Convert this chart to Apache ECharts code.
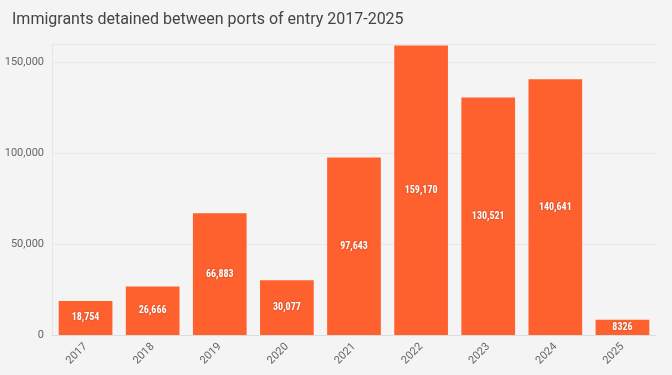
<!DOCTYPE html>
<html>
<head>
<meta charset="utf-8">
<script src="https://cdn.jsdelivr.net/npm/echarts@6/dist/echarts.min.js"></script>
<style>
  html, body { margin: 0; padding: 0; background: #f4f4f4; }
  #chart { width: 672px; height: 375px; }
</style>
</head>
<body>
<div id="chart"></div>
<script>
const years = ["2017", "2018", "2019", "2020", "2021", "2022", "2023", "2024", "2025"];
const detained = [18754, 26666, 66883, 30077, 97643, 159170, 130521, 140641, 8326];

const chart = echarts.init(document.getElementById("chart"));
chart.setOption({
  backgroundColor: "#f4f4f4",
  animation: false,
  title: {
    text: "Immigrants detained between ports of entry 2017-2025",
    left: 7,
    top: 7,
    textStyle: { fontFamily: "Roboto", fontSize: 16, fontWeight: "normal", color: "#444" },
  },
  grid: { left: 52, right: 16, top: 44, bottom: 40 },
  xAxis: {
    type: "category",
    data: years,
    axisLine: { lineStyle: { color: "#ddd" } },
    axisTick: { show: false },
    axisLabel: { rotate: 45, color: "#666", fontSize: 11, fontFamily: "Roboto", margin: 10 },
  },
  yAxis: {
    type: "value",
    min: 0,
    max: 160000,
    interval: 50000,
    axisLine: { show: true, lineStyle: { color: "#e6e6e6" } },
    splitLine: { lineStyle: { color: "#e8e8e8" } },
    axisLabel: {
      color: "#666",
      fontSize: 11,
      fontFamily: "Roboto",
      formatter: (v) => v.toLocaleString("en-US"),
      showMaxLabel: false,
    },
  },
  series: [
    {
      type: "bar",
      data: detained,
      barWidth: "80%",
      itemStyle: { color: "#fe602e" },
      label: {
        show: true,
        position: "inside",
        color: "#fff",
        fontSize: 10,
        fontWeight: "bold",
        fontFamily: "Roboto Condensed, Roboto",
        textShadowColor: "rgba(0,0,0,0.3)",
        textShadowBlur: 2,
        formatter: (p) => (p.value < 10000 ? String(p.value) : p.value.toLocaleString("en-US")),
      },
    },
  ],
});
</script>
</body>
</html>
